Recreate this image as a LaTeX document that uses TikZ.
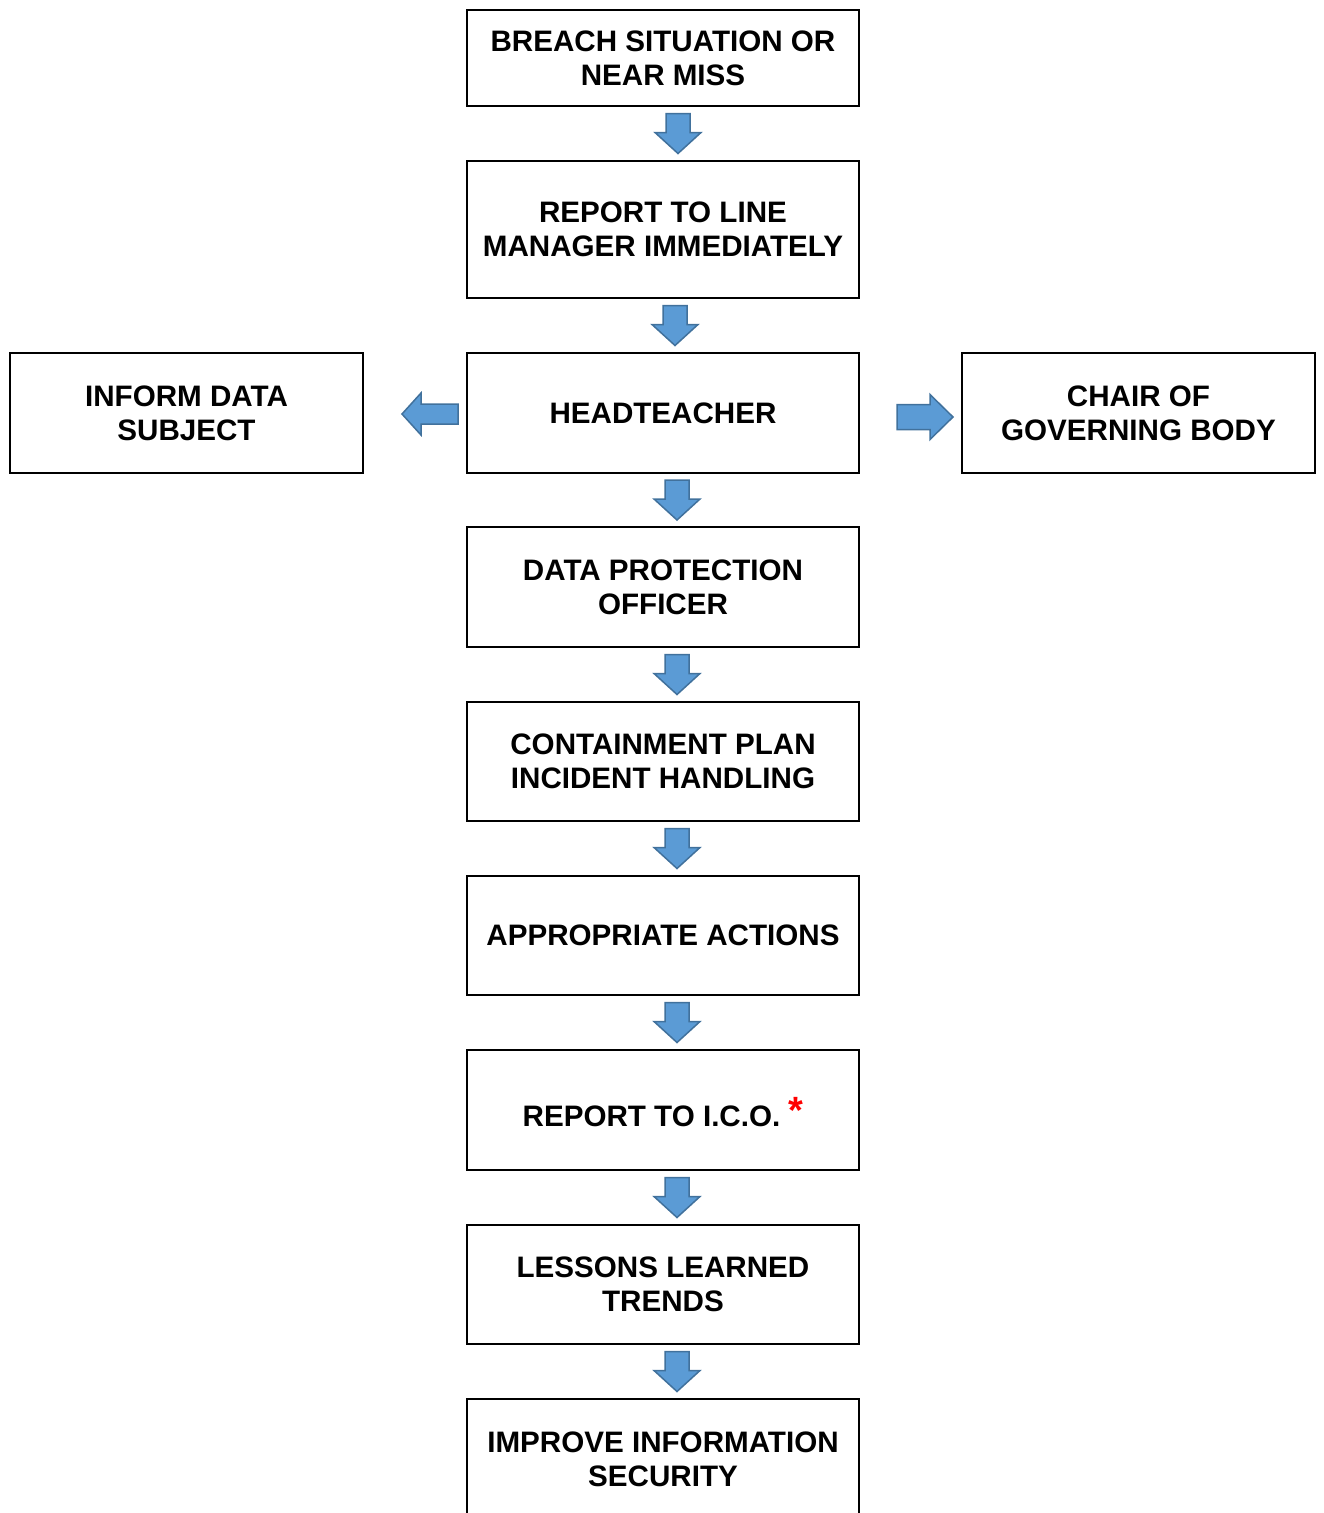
\documentclass[tikz,border=0pt]{standalone}
\usepackage{fontspec}
\setmainfont{Liberation Sans}
\usetikzlibrary{calc}
\definecolor{arrfill}{HTML}{5B9BD5}
\definecolor{arrline}{HTML}{41719C}
\tikzset{
  box/.style={draw=black, line width=2pt, minimum width=392pt, align=center,
    font=\fontsize{29.6}{34}\selectfont\bfseries, inner sep=0pt},
  sidebox/.style={box, minimum width=353pt, minimum height=120pt},
  blockarrow/.style={fill=arrfill, draw=arrline, line width=1.5pt, line join=miter},
  downarr/.pic={\path[blockarrow] (-12,-20) -- (12,-20) -- (12,-1) -- (23,-1) -- (0,20) -- (-23,-1) -- (-12,-1) -- cycle;},
  leftarr/.pic={\path[blockarrow] (-28,0) -- (-9,-21) -- (-9,-10) -- (28,-10) -- (28,10) -- (-9,10) -- (-9,21) -- cycle;},
  rightarr/.pic={\path[blockarrow] (28,0) -- (5,-22.5) -- (5,-12.5) -- (-28,-12.5) -- (-28,12.5) -- (5,12.5) -- (5,22.5) -- cycle;}
}
\begin{document}
\begin{tikzpicture}[x=1pt,y=-1pt]
\useasboundingbox (0,0) rectangle (1323,1513);
\begin{scope}
\clip (0,0) rectangle (1323,1513);
\node[box, minimum height=96pt]  (breach)  at (663,58)     {BREACH SITUATION OR\\NEAR MISS};
\node[box, minimum height=137pt] (report)  at (663,229.5)  {REPORT TO LINE\\MANAGER IMMEDIATELY};
\node[box, minimum height=120pt] (head)    at (663,413)    {HEADTEACHER};
\node[sidebox]                   (inform)  at (186.5,413)  {INFORM DATA\\SUBJECT};
\node[sidebox]                   (chair)   at (1138.5,413) {CHAIR OF\\GOVERNING BODY};
\node[box, minimum height=120pt] (dpo)     at (663,587)    {DATA PROTECTION\\OFFICER};
\node[box, minimum height=119pt] (contain) at (663,761.5)  {CONTAINMENT PLAN\\INCIDENT HANDLING};
\node[box, minimum height=119pt] (actions) at (663,935.5)  {APPROPRIATE ACTIONS};
\node[box, minimum height=120pt] (ico)     at (663,1110)   {};
\node[font=\fontsize{29.6}{34}\selectfont\bfseries, anchor=base, inner sep=0pt] (icotext) at (663,1126)
  {REPORT TO I.C.O. {\color{red}\fontsize{38}{38}\selectfont\raisebox{3pt}{*}}};
\node[box, minimum height=119pt] (lessons) at (663,1284.5) {LESSONS LEARNED\\TRENDS};
\node[box, minimum height=120pt] (improve) at (663,1459)   {IMPROVE INFORMATION\\SECURITY};
\end{scope}
\pic at ($(breach.south)!0.5!(report.north)+(15,0)$) {downarr};
\pic at ($(report.south)!0.5!(head.north)+(12,0)$) {downarr};
\pic at ($(head.south)!0.5!(dpo.north)+(14,0)$) {downarr};
\pic at ($(dpo.south)!0.5!(contain.north)+(14,0)$) {downarr};
\pic at ($(contain.south)!0.5!(actions.north)+(14,0)$) {downarr};
\pic at ($(actions.south)!0.5!(ico.north)+(14,0)$) {downarr};
\pic at ($(ico.south)!0.5!(lessons.north)+(14,0)$) {downarr};
\pic at ($(lessons.south)!0.5!(improve.north)+(14,0)$) {downarr};
\pic at ($(inform.east)!0.5!(head.west)+(15,1)$) {leftarr};
\pic at ($(head.east)!0.5!(chair.west)+(14.5,4)$) {rightarr};
\end{tikzpicture}
\end{document}
